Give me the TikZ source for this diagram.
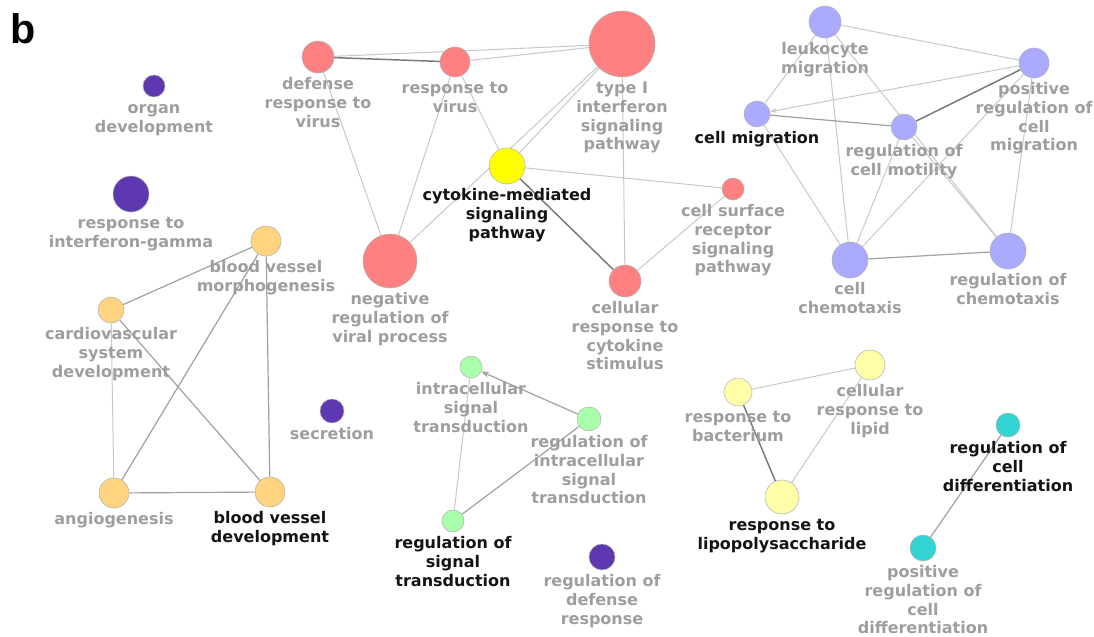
\documentclass[tikz,border=0pt]{standalone}
\usepackage{fontspec}
\setmainfont{DejaVu Sans}
\newfontfamily\panelfont{Liberation Sans}
\usetikzlibrary{backgrounds,arrows.meta}
\definecolor{cred}{RGB}{255,128,128}
\definecolor{cyel}{RGB}{255,255,0}
\definecolor{cblue}{RGB}{170,170,255}
\definecolor{cpurp}{RGB}{94,56,176}
\definecolor{corng}{RGB}{255,212,128}
\definecolor{cgrn}{RGB}{170,255,170}
\definecolor{clyel}{RGB}{255,255,170}
\definecolor{ccyan}{RGB}{51,212,212}
\definecolor{labgray}{RGB}{158,158,158}
\definecolor{labblack}{RGB}{20,20,20}
\definecolor{elight}{RGB}{200,200,200}
\definecolor{emed}{RGB}{160,160,160}
\definecolor{edark}{RGB}{120,120,120}
\newcommand\fl{\vphantom{Ad}}
\tikzset{
  go/.style={circle, draw=black!30, line width=0.4pt, inner sep=0pt, minimum size=#1*0.75pt},
  lab/.style={anchor=north, align=center, font=\bfseries\fontsize{12}{14}\selectfont, text=labgray, inner sep=0pt},
  labb/.style={lab, text=labblack},
  el/.style={draw=elight, line width=0.75pt},
  em/.style={draw=emed, line width=0.9pt},
  ed/.style={draw=edark, line width=1.1pt},
}
\begin{document}
\begin{tikzpicture}[x=0.75pt, y=-0.75pt]
\useasboundingbox (0,0) rectangle (1094,636);
\node[anchor=base west, inner sep=0pt, font=\panelfont\bfseries\fontsize{31}{31}\selectfont] (panel) at (10,43) {b};
% red cluster
\node[go=32, fill=cred] (dv) at (318,57) {};
\node[go=30, fill=cred] (rv) at (455,62) {};
\node[go=66, fill=cred] (ti) at (622,44) {};
\node[go=36, fill=cyel] (cm) at (507,166) {};
\node[go=54, fill=cred] (nr) at (390,261) {};
\node[go=32, fill=cred] (cr) at (625,281) {};
\node[go=22, fill=cred] (cs) at (733,189) {};
% blue cluster
\node[go=32, fill=cblue] (lm) at (825,22) {};
\node[go=30, fill=cblue] (pm) at (1034,63) {};
\node[go=26, fill=cblue] (cmig) at (757,114) {};
\node[go=26, fill=cblue] (mot) at (904,127) {};
\node[go=36, fill=cblue] (ch) at (850,260) {};
\node[go=36, fill=cblue] (rch) at (1008,251) {};
% purple
\node[go=22, fill=cpurp] (od) at (154,86) {};
\node[go=36, fill=cpurp] (ig) at (131,194) {};
\node[go=24, fill=cpurp] (sec) at (332,411) {};
\node[go=26, fill=cpurp] (rd) at (602,557) {};
% orange
\node[go=30, fill=corng] (bm) at (266,241) {};
\node[go=26, fill=corng] (cv) at (111,310) {};
\node[go=30, fill=corng] (ang) at (114,493) {};
\node[go=30, fill=corng] (bd) at (270,492) {};
% green
\node[go=22, fill=cgrn] (is) at (471,367) {};
\node[go=24, fill=cgrn] (ri) at (589,419) {};
\node[go=22, fill=cgrn] (rs) at (453,521) {};
% light yellow
\node[go=28, fill=clyel] (rb) at (738,392) {};
\node[go=30, fill=clyel] (lip) at (870,365) {};
\node[go=34, fill=clyel] (lps) at (782,497) {};
% cyan
\node[go=24, fill=ccyan] (rcd) at (1008,425) {};
\node[go=26, fill=ccyan] (pcd) at (923,548) {};

% labels
\node[lab] (l-dv) at ([yshift=-3pt]dv.south) {\fl defense\\response to\\virus};
\node[lab] (l-rv) at ([yshift=-3pt]rv.south) {\fl response to\\virus};
\node[lab] (l-ti) at ([yshift=-3pt]ti.south) {\fl type I\\interferon\\signaling\\pathway};
\node[labb] (l-cm) at ([yshift=-3pt]cm.south) {\fl cytokine-mediated\\signaling\\pathway};
\node[lab] (l-nr) at ([yshift=-3pt]nr.south) {\fl negative\\regulation of\\viral process};
\node[lab] (l-cr) at ([yshift=-3pt]cr.south) {\fl cellular\\response to\\cytokine\\stimulus};
\node[lab] (l-cs) at ([yshift=-3pt]cs.south) {\fl cell surface\\receptor\\signaling\\pathway};
\node[lab] (l-lm) at ([yshift=-3pt]lm.south) {\fl leukocyte\\migration};
\node[lab] (l-pm) at ([yshift=-3pt]pm.south) {\fl positive\\regulation of\\cell\\migration};
\node[labb] (l-cmig) at ([yshift=-3pt]cmig.south) {\fl cell migration};
\node[lab] (l-mot) at ([yshift=-3pt]mot.south) {\fl regulation of\\cell motility};
\node[lab] (l-ch) at ([yshift=-3pt]ch.south) {\fl cell\\chemotaxis};
\node[lab] (l-rch) at ([yshift=-3pt]rch.south) {\fl regulation of\\chemotaxis};
\node[lab] (l-od) at ([yshift=-3pt]od.south) {\fl organ\\development};
\node[lab] (l-ig) at ([yshift=-3pt]ig.south) {\fl response to\\interferon-gamma};
\node[lab] (l-sec) at ([yshift=-3pt]sec.south) {\fl secretion};
\node[lab] (l-rd) at ([yshift=-3pt]rd.south) {\fl regulation of\\defense\\response};
\node[lab] (l-bm) at ([yshift=-3pt]bm.south) {\fl blood vessel\\morphogenesis};
\node[lab] (l-cv) at ([yshift=-3pt]cv.south) {\fl cardiovascular\\system\\development};
\node[lab] (l-ang) at ([yshift=-3pt]ang.south) {\fl angiogenesis};
\node[labb] (l-bd) at ([yshift=-3pt]bd.south) {\fl blood vessel\\development};
\node[lab] (l-is) at ([yshift=-3pt]is.south) {\fl intracellular\\signal\\transduction};
\node[lab] (l-ri) at ([yshift=-3pt]ri.south) {\fl regulation of\\intracellular\\signal\\transduction};
\node[labb] (l-rs) at ([yshift=-3pt]rs.south) {\fl regulation of\\signal\\transduction};
\node[lab] (l-rb) at ([yshift=-3pt]rb.south) {\fl response to\\bacterium};
\node[lab] (l-lip) at ([yshift=-3pt]lip.south) {\fl cellular\\response to\\lipid};
\node[labb] (l-lps) at ([yshift=-3pt]lps.south) {\fl response to\\lipopolysaccharide};
\node[labb] (l-rcd) at ([yshift=-3pt]rcd.south) {\fl regulation of\\cell\\differentiation};
\node[lab] (l-pcd) at ([yshift=-3pt]pcd.south) {\fl positive\\regulation of\\cell\\differentiation};

\begin{scope}[on background layer]
% red
\draw[ed] (dv) -- (rv);
\draw[el] (dv) -- (ti);
\draw[el] (rv) -- (ti);
\draw[el] (dv) -- (nr);
\draw[el] (rv) -- (nr);
\draw[el] (rv) -- (cm);
\draw[el] (ti) -- (cm);
\draw[el] (ti) -- (nr);
\draw[el] (ti) -- (cr);
\draw[ed] (cm) -- (cr);
\draw[el] (cm) -- (cs);
\draw[el] (cs) -- (cr);
% blue
\draw[el] (lm) -- (pm);
\draw[el] (lm) -- (cmig);
\draw[el] (lm) -- (ch);
\draw[el] (lm) -- (rch);
\draw[el] (mot) -- (rch);
\draw[el, -{Stealth[length=5pt,width=3.5pt]}] (pm) -- (cmig);
\draw[ed] (pm) -- (mot);
\draw[el] (pm) -- (ch);
\draw[el] (pm) -- (rch);
\draw[em] (cmig) -- (mot);
\draw[el] (cmig) -- (ch);
\draw[el] (mot) -- (ch);
\draw[em] (ch) -- (rch);
% orange
\draw[em] (bm) -- (cv);
\draw[em] (bm) -- (ang);
\draw[em] (bm) -- (bd);
\draw[el] (cv) -- (ang);
\draw[em] (cv) -- (bd);
\draw[em] (ang) -- (bd);
% green
\draw[em, -{Stealth[length=6pt,width=4.5pt]}] (ri) -- (is);
\draw[el] (is) -- (rs);
\draw[em] (ri) -- (rs);
% light yellow
\draw[el] (rb) -- (lip);
\draw[ed] (rb) -- (lps);
\draw[el] (lip) -- (lps);
% cyan
\draw[em] (rcd) -- (pcd);
\end{scope}
\end{tikzpicture}
\end{document}
